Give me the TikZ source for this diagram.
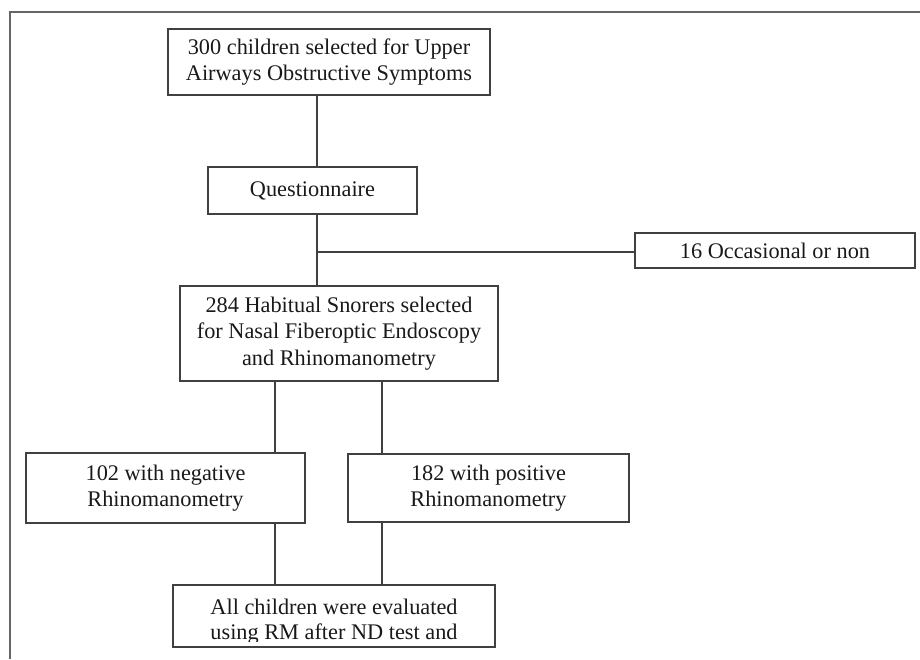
\documentclass[tikz,border=0pt]{standalone}
\usepackage{fontspec}
\setmainfont{Liberation Serif}
\begin{document}
\begin{tikzpicture}[x=1pt,y=-1pt,
  box/.style={draw=black!75, line width=1.3pt, rectangle, inner sep=0pt, align=center,
    font=\fontsize{22.3}{26.5}\selectfont, text=black!90},
  conn/.style={draw=black!75, line width=1.2pt}]
\useasboundingbox (0,0) rectangle (920,659);
\draw[black!60, line width=1.4pt] (920,12) -- (10,12) -- (10,659);
\node[box, minimum width=322pt, minimum height=66pt] (b1) at (329,62)
  {300 children selected for Upper\\Airways Obstructive Symptoms};
\node[box, minimum width=209pt, minimum height=47pt] (q) at (312.5,190.5) {Questionnaire};
\node[box, minimum width=280pt, minimum height=35pt] (b16) at (775,250.5) {16 Occasional or non};
\node[box, minimum width=318pt, minimum height=95pt] (b284) at (339,333.5)
  {284 Habitual Snorers selected\\for Nasal Fiberoptic Endoscopy\\and Rhinomanometry};
\node[box, minimum width=279pt, minimum height=70pt] (neg) at (165.5,488)
  {102 with negative\\Rhinomanometry};
\node[box, minimum width=281pt, minimum height=68pt] (pos) at (488.5,488)
  {182 with positive\\Rhinomanometry};
\node[box, minimum width=322pt, minimum height=62pt] (all) at (334,616) {};
\begin{scope}
  \clip (all.north west) rectangle (all.east |- 0,641.5);
  \node[align=center, inner sep=0pt, font=\fontsize{22.3}{26.5}\selectfont, text=black!90,
    anchor=base] (alltxt) at (334,614) {All children were evaluated};
  \node[align=center, inner sep=0pt, font=\fontsize{22.3}{26.5}\selectfont, text=black!90,
    anchor=base] (alltxt2) at (334,639.5) {using RM after ND test and};
\end{scope}
\coordinate (xa) at (317,0);
\coordinate (xl) at (275,0);
\coordinate (xr) at (382,0);
\coordinate (jn) at (317,252);
\draw[conn] (b1.south -| xa) -- (q.north -| xa);
\draw[conn] (q.south -| xa) -- (b284.north -| xa);
\draw[conn] (jn) -- (jn -| b16.west);
\draw[conn] (b284.south -| xl) -- (neg.north -| xl);
\draw[conn] (b284.south -| xr) -- (pos.north -| xr);
\draw[conn] (neg.south -| xl) -- (all.north -| xl);
\draw[conn] (pos.south -| xr) -- (all.north -| xr);
\end{tikzpicture}
\end{document}
